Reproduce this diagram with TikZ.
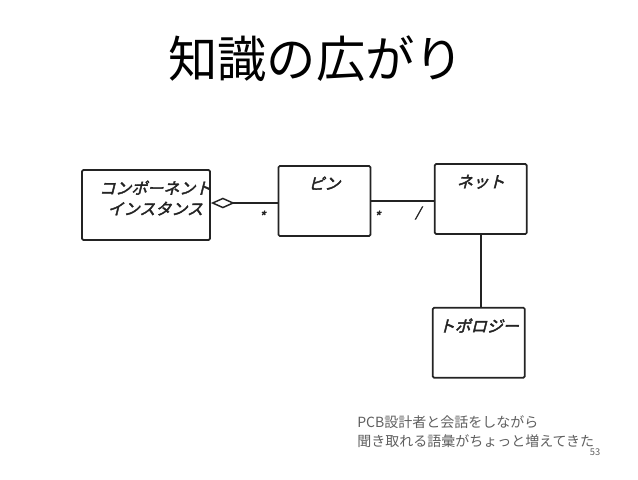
\documentclass[tikz,border=0pt]{standalone}
\usepackage{fontspec}
\setmainfont{Noto Sans CJK JP}
\newfontfamily\hand[FakeSlant=0.25,FakeBold=2.5]{Noto Sans CJK JP}
\usetikzlibrary{positioning,arrows.meta}
\definecolor{pen}{RGB}{35,35,35}
\definecolor{note}{RGB}{95,95,95}
\tikzstyle{block} = [rectangle, draw=pen, line width=1.3pt, rounded corners=1pt,
    minimum width=69pt, minimum height=52.5pt, inner sep=0pt]
\tikzstyle{wire} = [draw=pen, line width=1.4pt]
\tikzstyle{handtext} = [font=\hand\fontsize{12}{15.5}\selectfont, text=pen, align=center]
\tikzstyle{mult} = [font=\hand\fontsize{10}{10}\selectfont, text=pen]

\begin{document}
\begin{tikzpicture}[x=0.75pt, y=-0.75pt]
    \useasboundingbox (0,0) rectangle (638,479);
    % Title
    \node (title) at (316,59) {\fontsize{37}{40}\selectfont 知識の広がり};
    % Place nodes
    \node [block, minimum width=96pt] (comp) at (146,205) {};
    \node [block, right=50pt of comp, yshift=3pt] (pin) {};
    \node [block, right=47pt of pin, yshift=1.5pt] (net) {};
    \node [block, below=54pt of net, xshift=-1.5pt] (topo) {};
    % Labels
    \node [handtext, anchor=north] (comptext) at ([xshift=7pt,yshift=-5pt]comp.north)
        {コンポーネント\\インスタンス};
    \node [handtext] (pintext) at ([yshift=-13.5pt]pin.north) {ピン};
    \node [handtext] (nettext) at ([yshift=-14pt]net.north) {ネット};
    \node [handtext] (topotext) at ([yshift=-14pt]topo.north) {トポロジー};
    % Draw edges
    \draw [wire, {Diamond[open, length=18pt, width=8pt, line width=1.1pt]}-] ([yshift=1.5pt]comp.east) -- ([yshift=1.5pt]comp.east -| pin.west);
    \draw [wire] (pin.east) -- (pin.east -| net.west);
    \draw [wire] (net.south) -- (net.south |- topo.north);
    % Multiplicities
    \node [mult] (m1) at (262,216) {*};
    \node [mult] (m2) at (377,216) {*};
    \node [mult] (m3) at (418,213) {/};
    % Note
    \node [anchor=north west, align=left, text=note, inner sep=0pt,
        font=\fontsize{10.5}{14.25}\selectfont] (note) at (357,415)
        {PCB設計者と会話をしながら\\聞き取れる語彙がちょっと増えてきた};
    \node [text=note, font=\fontsize{7}{7}\selectfont] (page) at (595,452) {53};
\end{tikzpicture}
\end{document}
